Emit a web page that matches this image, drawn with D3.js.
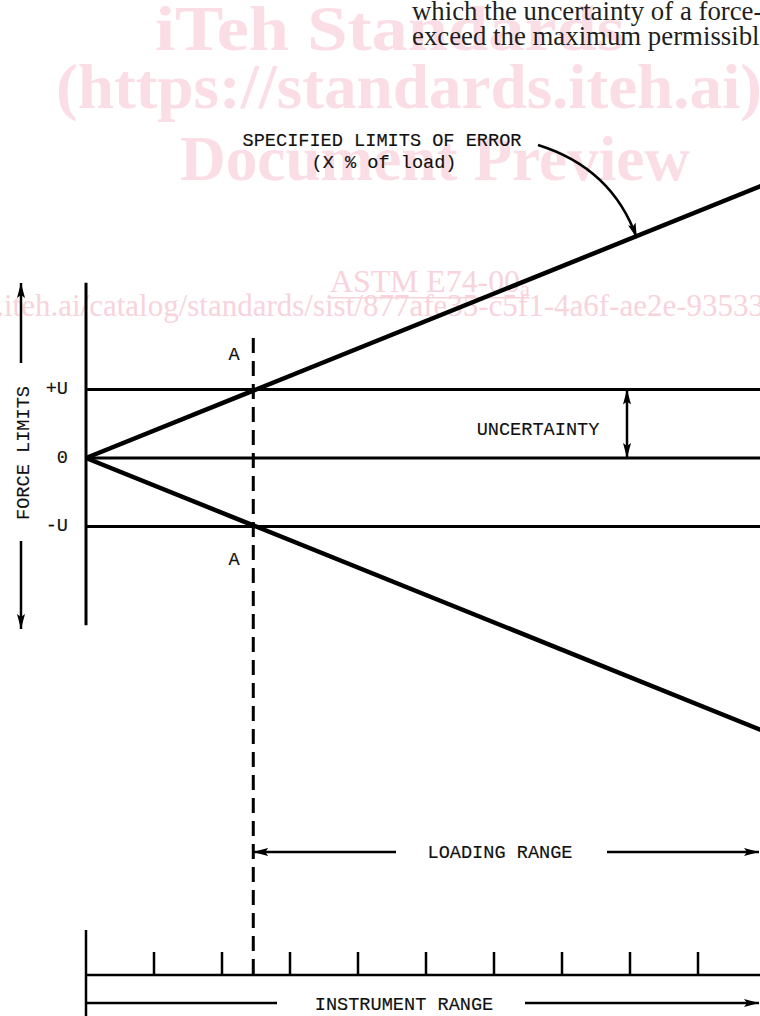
<!DOCTYPE html>
<html>
<head>
<meta charset="utf-8">
<script src="https://cdn.jsdelivr.net/npm/d3@7"></script>
<style>
    html, body { margin: 0; padding: 0; background: #fff; }
    svg { display: block; }
    .mono { font-family: "Liberation Mono", "Courier New", monospace; font-size: 18.6px; fill: #111; stroke: #111; stroke-width: 0.15; }
</style>
</head>
<body>
<svg id="chart" width="760" height="1016"></svg>
<script>
// Load axis (instrument range divided in 10 steps)
const loadDomain = [0, 10];
const rulerTicks = [1, 2, 3, 4, 5, 6, 7, 8, 9];

// Force levels and their labels
const forceLevels = [1, 0, -1];
const forceLabels = ['+U', '0', '-U'];

// Specified limits of error (X % of load), read at both ends
const upperLimit = [[0, 0], [10, 4.0]];
const lowerLimit = [[0, 0], [10, -4.0]];

// Point A where the limits cross the uncertainty band
const pointA = 2.46;
const loadingRange = [2.46, 10];
const instrumentRange = [0, 10];

// Watermark lines of the page
const watermark = ['iTeh Standards', '(https://standards.iteh.ai)', 'Document Preview'];
const bodyText = ['which the uncertainty of a force-', 'exceed the maximum permissibl'];

const svg = d3.select('#chart');

// Scales
const x = d3.scaleLinear().domain(loadDomain).range([86, 766]);
const y = d3.scaleLinear().domain([-1, 1]).range([526.5, 389.5]);

// Arrow marker
const defs = svg.append('defs');
defs.append('marker')
    .attr('id', 'arrow')
    .attr('viewBox', '0 0 15 8')
    .attr('refX', 15).attr('refY', 4)
    .attr('markerWidth', 15).attr('markerHeight', 8)
    .attr('markerUnits', 'userSpaceOnUse')
    .attr('orient', 'auto-start-reverse')
    .append('path')
    .attr('d', 'M0,0 L15,4 L0,8 L3,4 z')
    .attr('fill', '#000');

// Watermark (behind everything)
const wm = svg.append('g').attr('fill', '#fbdde5')
    .style('font-family', '"Liberation Serif", "Times New Roman", serif')
    .style('font-weight', 'bold');
const wmPos = [[155, 50, 470], [56, 108, 706], [180, 180, 510]];
wm.selectAll('text').data(watermark).join('text')
    .attr('x', (d, i) => wmPos[i][0])
    .attr('y', (d, i) => wmPos[i][1])
    .attr('textLength', (d, i) => wmPos[i][2])
    .attr('lengthAdjust', 'spacingAndGlyphs')
    .style('font-size', '64px')
    .text(d => d);

const wm2 = svg.append('g').attr('fill', '#f8d3dc')
    .style('font-family', '"Liberation Serif", "Times New Roman", serif');
const astm = wm2.append('text').attr('x', 330).attr('y', 292)
    .attr('textLength', 200).attr('lengthAdjust', 'spacingAndGlyphs')
    .style('font-size', '31px');
astm.append('tspan').text('ASTM E74-00');
astm.append('tspan').attr('dy', 4).style('font-size', '22px').text('a');
wm2.append('rect').attr('x', 330).attr('y', 297).attr('width', 200).attr('height', 1.5);
wm2.append('text').attr('x', 764).attr('y', 316).attr('text-anchor', 'end')
    .style('font-size', '31px')
    .text('https://standards.iteh.ai/catalog/standards/sist/877afe35-c5f1-4a6f-ae2e-93533');

// Body text of the page
svg.append('g').attr('fill', '#231f20')
    .style('font-family', '"Liberation Serif", "Times New Roman", serif')
    .style('font-size', '26.8px')
    .selectAll('text').data(bodyText).join('text')
    .attr('x', 412)
    .attr('y', (d, i) => 20 + i * 25)
    .text(d => d);

const g = svg.append('g').attr('stroke', '#000').attr('fill', 'none');

// Vertical force axis
g.append('line')
    .attr('x1', x(0)).attr('x2', x(0))
    .attr('y1', y(2.56)).attr('y2', y(-2.44))
    .attr('stroke-width', 3);

// Horizontal +U, 0, -U lines
g.selectAll('.level').data(forceLevels).join('line')
    .attr('class', 'level')
    .attr('x1', x(0)).attr('x2', x(10))
    .attr('y1', d => y(d)).attr('y2', d => y(d))
    .attr('stroke-width', 3);

// Specified limits of error
const line = d3.line().x(d => x(d[0])).y(d => y(d[1]));
g.selectAll('.limit').data([upperLimit, lowerLimit]).join('path')
    .attr('class', 'limit')
    .attr('d', line)
    .attr('stroke-width', 4.5);

// Dashed line through A
g.append('line')
    .attr('x1', x(pointA)).attr('x2', x(pointA))
    .attr('y1', 338).attr('y2', 975)
    .attr('stroke-width', 3)
    .attr('stroke-dasharray', '15,8');

// Uncertainty double arrow
g.append('line')
    .attr('x1', 627).attr('x2', 627)
    .attr('y1', y(0)).attr('y2', y(1))
    .attr('stroke-width', 2.5)
    .attr('marker-start', 'url(#arrow)')
    .attr('marker-end', 'url(#arrow)');

// Force limits arrows on the left
g.append('line').attr('x1', 21).attr('x2', 21).attr('y1', 363).attr('y2', 283)
    .attr('stroke-width', 2.5).attr('marker-end', 'url(#arrow)');
g.append('line').attr('x1', 21).attr('x2', 21).attr('y1', 541).attr('y2', 629)
    .attr('stroke-width', 2.5).attr('marker-end', 'url(#arrow)');

// Pointer to the limits of error
g.append('path')
    .attr('d', 'M538,145 Q612,168 ' + x(8.1) + ',' + (y(3.24) + 2))
    .attr('stroke-width', 2.5)
    .attr('marker-end', 'url(#arrow)');

// Loading range arrows
const yLoad = 852;
g.append('line').attr('x1', 396).attr('x2', x(loadingRange[0]))
    .attr('y1', yLoad).attr('y2', yLoad)
    .attr('stroke-width', 2.5).attr('marker-end', 'url(#arrow)');
g.append('line').attr('x1', 607).attr('x2', 759)
    .attr('y1', yLoad).attr('y2', yLoad)
    .attr('stroke-width', 2.5).attr('marker-end', 'url(#arrow)');

// Instrument ruler
const yRuler = 975;
g.append('line').attr('x1', x(instrumentRange[0])).attr('x2', x(instrumentRange[1]))
    .attr('y1', yRuler).attr('y2', yRuler).attr('stroke-width', 2.5);
g.append('line').attr('x1', x(0)).attr('x2', x(0))
    .attr('y1', 930).attr('y2', 1016).attr('stroke-width', 2.5);
g.selectAll('.tick').data(rulerTicks).join('line')
    .attr('class', 'tick')
    .attr('x1', d => x(d)).attr('x2', d => x(d))
    .attr('y1', yRuler).attr('y2', yRuler - 23)
    .attr('stroke-width', 2.5);

// Instrument range arrows
const yInst = 1003;
g.append('line').attr('x1', x(0)).attr('x2', 277)
    .attr('y1', yInst).attr('y2', yInst).attr('stroke-width', 2.5);
g.append('line').attr('x1', 525).attr('x2', 759)
    .attr('y1', yInst).attr('y2', yInst)
    .attr('stroke-width', 2.5).attr('marker-end', 'url(#arrow)');

// Labels
const t = svg.append('g').attr('class', 'mono');
t.selectAll('.flabel').data(forceLevels).join('text')
    .attr('class', 'flabel')
    .attr('x', 68)
    .attr('y', d => y(d) - 2)
    .attr('dy', '0.35em')
    .attr('text-anchor', 'end')
    .text((d, i) => forceLabels[i]);

t.append('text').attr('x', 234).attr('y', 353).attr('dy', '0.35em').attr('text-anchor', 'middle').text('A');
t.append('text').attr('x', 234).attr('y', 558).attr('dy', '0.35em').attr('text-anchor', 'middle').text('A');

t.append('text').attr('transform', 'translate(22,453) rotate(-90)')
    .attr('dy', '0.35em').attr('text-anchor', 'middle').text('FORCE LIMITS');

t.append('text').attr('x', 382).attr('y', 139).attr('dy', '0.35em').attr('text-anchor', 'middle').text('SPECIFIED LIMITS OF ERROR');
t.append('text').attr('x', 384).attr('y', 161).attr('dy', '0.35em').attr('text-anchor', 'middle').text('(X % of load)');
t.append('text').attr('x', 538).attr('y', 428).attr('dy', '0.35em').attr('text-anchor', 'middle').text('UNCERTAINTY');
t.append('text').attr('x', 500).attr('y', yLoad - 1).attr('dy', '0.35em').attr('text-anchor', 'middle').text('LOADING RANGE');
t.append('text').attr('x', 404).attr('y', yInst).attr('dy', '0.35em').attr('text-anchor', 'middle').text('INSTRUMENT RANGE');
</script>
</body>
</html>
